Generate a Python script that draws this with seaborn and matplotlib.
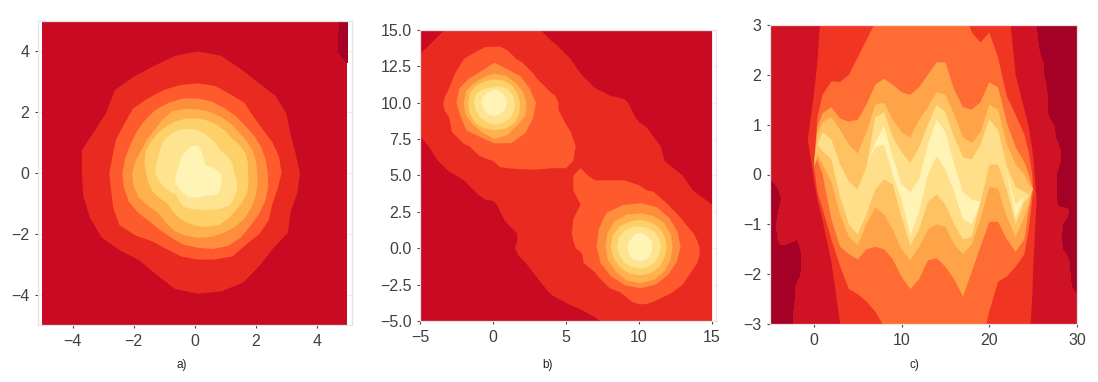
import numpy as np
import seaborn as sns
import matplotlib
matplotlib.use("Agg")
import matplotlib.pyplot as plt
from matplotlib.patches import Rectangle

W, H = 1098, 382

# band edges as radius from the blob centre, one value per ray
a_rays = [0, 11.25, 22.5, 33.75, 45, 56.25, 67.5, 78.75, 90, 101.25, 112.5, 123.75, 135, 146.25, 157.5, 168.75,
          180, 191.25, 202.5, 213.75, 225, 236.25, 247.5, 258.75, 270, 281.25, 292.5, 303.75, 315, 326.25, 337.5, 348.75]
b_rays = [0, 22.5, 45, 67.5, 90, 112.5, 135, 157.5, 180, 202.5, 225, 247.5, 270, 292.5, 315, 337.5]

# panel a
a_center = (0.1, 0.0)
a_r1 = [3.35, 3.27, 3.3, 3.5, 3.6, 3.57, 3.7, 3.93, 4, 3.92, 3.8, 3.8, 3.85, 3.6, 3.65, 3.87,
        3.8, 3.83, 3.83, 3.8, 3.6, 3.45, 3.6, 3.88, 3.97, 3.97, 3.9, 3.66, 3.5, 3.55, 3.3, 3.33]
a_r2 = [2.75, 2.72, 2.65, 2.57, 2.6, 2.77, 2.8, 2.92, 2.95, 2.95, 2.95, 2.95, 3, 2.9, 2.9, 2.85,
        2.9, 2.9, 3, 3.09, 2.9, 2.7, 2.7, 2.8, 2.85, 2.9, 2.97, 2.84, 2.85, 2.8, 2.65, 2.67]
a_r3 = [2.3, 2.27, 2.25, 2.22, 2.2, 2.25, 2.3, 2.4, 2.45, 2.5, 2.5, 2.5, 2.45, 2.42, 2.4, 2.43,
        2.47, 2.47, 2.45, 2.35, 2.25, 2.25, 2.3, 2.4, 2.46, 2.55, 2.6, 2.55, 2.45, 2.42, 2.4, 2.35]
a_r4 = [1.95, 1.95, 1.95, 1.92, 1.9, 1.95, 2, 2.05, 2.1, 2.15, 2.2, 2.1, 2, 2, 2, 2.08,
        2.15, 2.15, 2.1, 1.95, 1.85, 1.93, 2.05, 2.1, 2.13, 2.15, 2.15, 2.15, 2.15, 2.1, 2.05, 2]
a_r5 = [1.65, 1.68, 1.7, 1.65, 1.6, 1.65, 1.7, 1.75, 1.8, 1.83, 1.85, 1.85, 1.85, 1.85, 1.85, 1.78,
        1.7, 1.65, 1.6, 1.5, 1.41, 1.5, 1.6, 1.68, 1.75, 1.8, 1.85, 1.8, 1.75, 1.75, 1.75, 1.7]
a_r6 = [1.2, 1.18, 1.15, 1.1, 1.05, 1.12, 1.2, 1.3, 1.4, 1.48, 1.55, 1.55, 1.55, 1.47, 1.4, 1.4,
        1.4, 1.3, 1.2, 1.1, 1, 1.1, 1.2, 1.2, 1.2, 1.25, 1.3, 1.4, 1.5, 1.45, 1.4, 1.3]
a_r7 = [0.73, 0.6, 0.5, 0.4, 0.35, 0.42, 0.5, 0.7, 0.9, 0.9, 0.85, 0.8, 0.75, 0.7, 0.65, 0.68,
        0.7, 0.75, 0.8, 0.8, 0.8, 0.82, 0.85, 0.83, 0.8, 0.8, 0.8, 0.88, 0.95, 0.9, 0.85, 0.8]
# dark corner of panel a
a_dark_x = [4.5, 5]
a_dark_y = [3.5, 4, 5]
a_dark_z = [[1, 1], [2, -3], [3, -3]]

# panel b, outer two bands on a grid
b_x = [-5, -4, -3, -2, -1, -0.5, 0, 0.5, 1, 2, 3, 4, 5, 6, 7, 8, 9, 9.5, 10, 10.5, 11, 12, 13, 14, 15]
b_y = [15, 14, 13, 12, 11, 10.5, 10, 9.5, 9, 8, 7, 6, 5, 4, 3, 2, 1, 0.5, 0, -0.5, -1, -2, -3, -4, -5]
b_z = [
    [5, 8, 11, 13, 14, 15, 15, 15, 14, 13, 11, 7, 5, 4, 3, 3, 3, 3, 3, 3, 3, 3, 2, 2, 2],
    [8, 11, 13, 16, 18, 19, 19, 19, 18, 15, 13, 11, 8, 6, 5, 4, 4, 4, 4, 4, 4, 3, 3, 3, 2],
    [11, 13, 16, 20, 23, 25, 26, 26, 23, 18, 16, 14, 11, 8, 7, 6, 5, 5, 5, 5, 5, 4, 4, 3, 3],
    [13, 14, 18, 23, 31, 35, 40, 38, 34, 27, 18, 16, 13, 10, 8, 7, 6, 6, 6, 6, 6, 5, 5, 4, 3],
    [14, 16, 20, 33, 51, 55, 60, 57, 52, 32, 24, 18, 15, 13, 10, 8, 8, 7, 7, 7, 7, 6, 5, 4, 3],
    [15, 17, 21, 37, 62, 71, 75, 72, 65, 40, 27, 21, 17, 14, 12, 10, 9, 9, 8, 8, 7, 6, 5, 4, 3],
    [15, 17, 22, 40, 64, 73, 77, 74, 69, 46, 28, 22, 18, 15, 13, 12, 11, 9, 9, 8, 8, 7, 6, 5, 4],
    [14, 16, 22, 40, 63, 71, 75, 72, 67, 46, 30, 22, 18, 16, 14, 13, 11, 10, 9, 8, 8, 7, 6, 5, 4],
    [14, 16, 20, 37, 58, 65, 69, 66, 61, 41, 28, 23, 19, 17, 15, 14, 12, 11, 9, 8, 8, 7, 6, 5, 4],
    [11, 14, 18, 29, 38, 43, 50, 47, 43, 33, 27, 23, 21, 18, 16, 15, 14, 13, 12, 11, 9, 7, 6, 5, 4],
    [7, 12, 15, 18, 23, 25, 28, 28, 28, 28, 26, 24, 22, 19, 17, 16, 15, 14, 14, 13, 12, 8, 6, 5, 4],
    [5, 9, 13, 15, 18, 19, 20, 23, 24, 24, 23, 22, 21, 19, 18, 17, 16, 15, 15, 14, 13, 9, 7, 5, 4],
    [4, 6, 9, 11, 13, 14, 15, 16, 16, 17, 18, 18, 19, 21, 19, 19, 19, 19, 18, 18, 17, 14, 10, 7, 5],
    [3, 4, 6, 8, 11, 12, 13, 13, 14, 14, 15, 16, 18, 22, 22, 22, 22, 21, 21, 20, 19, 16, 12, 9, 7],
    [2, 3, 4, 6, 8, 9, 9, 11, 12, 13, 14, 15, 17, 20, 23, 25, 28, 29, 30, 29, 27, 20, 16, 13, 10],
    [1, 2, 3, 4, 5, 6, 7, 9, 11, 12, 13, 14, 17, 23, 26, 31, 44, 48, 50, 48, 45, 35, 19, 15, 12],
    [1, 1, 2, 3, 4, 5, 6, 7, 8, 11, 13, 15, 18, 23, 28, 42, 62, 67, 70, 67, 63, 47, 29, 17, 13],
    [1, 1, 2, 3, 3, 4, 5, 6, 8, 11, 13, 15, 18, 22, 27, 45, 65, 72, 75, 73, 69, 50, 28, 20, 15],
    [1, 1, 1, 2, 3, 3, 4, 5, 8, 12, 14, 16, 18, 21, 29, 47, 67, 73, 77, 74, 68, 47, 27, 21, 15],
    [1, 1, 1, 2, 2, 3, 3, 4, 7, 11, 14, 15, 17, 19, 26, 44, 63, 70, 73, 71, 66, 47, 28, 21, 14],
    [1, 1, 1, 1, 2, 2, 3, 3, 5, 9, 13, 15, 16, 19, 24, 39, 57, 64, 68, 65, 60, 43, 26, 20, 13],
    [1, 1, 1, 1, 1, 2, 2, 2, 3, 6, 10, 13, 15, 17, 18, 26, 42, 46, 48, 46, 43, 30, 22, 16, 11],
    [1, 1, 1, 1, 1, 1, 2, 2, 2, 3, 6, 11, 13, 15, 17, 18, 21, 24, 26, 25, 24, 21, 18, 14, 10],
    [1, 1, 1, 1, 1, 1, 1, 1, 1, 1, 3, 6, 9, 11, 13, 15, 17, 18, 19, 19, 18, 16, 15, 13, 11],
    [1, 1, 1, 1, 1, 1, 1, 1, 1, 1, 1, 2, 3, 6, 9, 12, 13, 14, 14, 14, 14, 13, 13, 12, 11],
]
# panel b, inner rings of the two blobs
b1_center = (0.1, 10.0)
b1_r3 = [2.85, 2.6, 2.55, 2.47, 2.75, 2.35, 2.4, 2.6, 2.6, 2.5, 2.7, 2.55, 2.8, 3, 2.97, 2.85]
b1_r4 = [2.2, 2.1, 2, 2, 2, 1.9, 1.95, 2.1, 2.1, 2.15, 2.1, 2.2, 2.5, 2.4, 2.2, 2.3]
b1_r5 = [1.75, 1.7, 1.7, 1.65, 1.6, 1.6, 1.7, 1.8, 1.8, 1.85, 1.9, 1.9, 1.9, 1.95, 1.95, 1.85]
b1_r6 = [1.4, 1.35, 1.3, 1.2, 1.1, 1.1, 1.25, 1.4, 1.4, 1.4, 1.4, 1.45, 1.5, 1.5, 1.5, 1.45]
b1_r7 = [0.85, 0.85, 0.85, 0.85, 0.9, 0.85, 0.85, 0.9, 0.9, 0.85, 0.85, 0.9, 0.9, 0.85, 0.85, 0.85]
b2_center = (10.1, 0.1)
b2_r3 = [2.75, 2.75, 2.8, 2.95, 3, 3.1, 3.3, 3.1, 3, 2.95, 2.85, 2.85, 2.85, 2.8, 2.7, 2.7]
b2_r4 = [2.2, 2.25, 2.3, 2.3, 2.3, 2.4, 2.5, 2.45, 2.4, 2.4, 2.4, 2.5, 2.5, 2.45, 2.35, 2.25]
b2_r5 = [1.8, 1.8, 1.85, 1.85, 1.85, 1.9, 2, 2.05, 2.05, 2, 2, 2, 1.95, 1.95, 1.9, 1.8]
b2_r6 = [1.4, 1.4, 1.4, 1.4, 1.4, 1.45, 1.55, 1.6, 1.6, 1.55, 1.55, 1.5, 1.5, 1.5, 1.45, 1.4]
b2_r7 = [0.8, 0.85, 0.85, 0.9, 0.95, 0.95, 0.85, 0.85, 0.9, 0.9, 0.95, 1, 1, 0.95, 0.9, 0.85]

# panel c, y of each band edge per x column, u = upper edge, l = lower edge
c_x = [-0.7, 0, 0.4, 1, 2, 3, 4, 5, 6, 7, 8, 9, 10, 11, 12, 13, 14, 15, 16, 17, 18, 19, 20, 21, 22, 23, 24,
       24.5, 24.9, 25, 25.4]
c_u1 = [0.7, 1.6, 2.25] + [3.8] * 22 + [2, 1.3, 0.95, 0.5, 0.37, -0.5]
c_u2 = [0.7, 0.17, 1.15, 1.6, 1.87, 1.86, 2, 2.35, 2.7, 3.05] + [3.4] * 10 + [2.85, 2.65, 2.85, 2.35, 1.57, 1.2, 0.8, 0.45, 0, -0.3, -0.5]
c_u3 = [0.7, 0.17, 0.95, 1.23, 1.35, 1.12, 1.06, 1.1, 1.4, 1.8, 1.92, 1.8, 1.65, 1.6, 1.75, 2, 2.25, 2.25, 1.7, 1.35, 1.3, 1.45, 1.85, 1.75, 1.04, 0.55, 0.25, 0, -0.25, -0.3, -0.5]
c_u4 = [0.7, 0.17, 0.8, 1.05, 1.15, 0.9, 0.6, 0.42, 0.85, 1.4, 1.44, 1.1, 0.85, 0.74, 1.1, 1.35, 1.65, 1.6, 1.2, 0.75, 0.63, 0.84, 1.4, 1.3, 0.6, 0.2, 0, -0.2, -0.26, -0.3, -0.5]
c_u5 = [0.7, 0.17, 0.6, 0.85, 0.7, 0.2, -0.15, -0.3, 0.15, 1.15, 1.25, 0.75, 0.45, 0.23, 0.55, 1, 1.4, 1.25, 0.75, 0.35, 0.3, 0.6, 1.1, 0.9, 0.17, -0.25, -0.35, -0.4, -0.27, -0.3, -0.5]
c_u6 = [0.7, 0.17, 0.6, 0.66, 0.5, -0.12, -0.57, -0.75, 0.15, 0.65, 0.97, 0.35, -0.2, -0.35, -0.1, 0.6, 1.1, 0.85, 0.2, -0.35, -0.5, -0.55, 0.6, 0.55, 0.03, -0.6, -0.45, -0.42, -0.275, -0.3, -0.5]
c_l6 = [0.7, 0.17, 0.6, 0.66, 0.5, -0.12, -0.57, -0.75, 0.15, 0.55, 0.6, 0, -0.5, -1.23, -0.75, 0, 0.37, 0.1, -0.35, -0.9, -1, -0.55, 0.6, 0.55, 0.03, -0.85, -0.45, -0.42, -0.275, -0.3, -0.5]
c_l5 = [0.7, 0.17, 0.6, 0.47, 0.3, -0.45, -1, -1.2, -0.8, -0.3, -0.1, -0.2, -0.85, -1.43, -1.1, -0.55, -0.4, -0.6, -1, -1.3, -1.25, -0.57, 0.2, 0.2, -0.3, -1, -0.55, -0.45, -0.28, -0.3, -0.5]
c_l4 = [0.7, 0.17, 0.4, 0.2, -0.15, -0.8, -1.25, -1.42, -1, -0.66, -0.8, -1.1, -1.5, -1.71, -1.45, -1.1, -1, -1.05, -1.4, -1.6, -1.4, -0.9, -0.25, -0.28, -0.85, -1.25, -0.85, -0.6, -0.3, -0.3, -0.5]
c_l3 = [0.7, 0.17, 0.3, 0, -0.9, -1.45, -1.6, -1.7, -1.5, -1.45, -1.5, -1.7, -2.05, -2.3, -2.1, -1.72, -1.68, -1.85, -2.1, -2.45, -1.95, -1.45, -0.95, -0.95, -1.3, -1.55, -1.3, -0.7, -0.32, -0.31, -0.5]
c_l2 = [0.7, 0.17, -0.35, -0.7, -1.3, -1.85, -2.3, -2.4, -2.55, -2.75, -3.05] + [-3.5] * 11 + [-2.75, -2.15, -2.05, -1.85, -1.6, -1.1, -0.5, -0.32, -0.5]
c_l1 = [0.7, -0.1, -0.5, -0.93, -1.75, -3] + [-3.8] * 21 + [-3.6, -2.45, -1.9, -0.5]

# dark patches of panel c, one list per x column
c_dark_y = [3, 2.75, 2.5, 2.25, 2, 1.75, 1.5, 1.25, 1, 0.75, 0.5, 0.25, 0,
            -0.25, -0.5, -0.75, -1, -1.25, -1.5, -1.75, -2, -2.25, -2.5, -2.75, -3]
c_left_x = [-5, -4, -3, -2, -1, 0]
c_left_z = [
    [6, 6, 6, 6, 6, 6, 6, 5, 5, 4, 4, 3, 2, -2, -4, -5, -5, -5, -6, -6, -6, -6, -6, -6, -6],
    [7, 7, 7, 7, 7, 7, 7, 7, 7, 6, 6, 6, 5, 1, -1, 1, 3, 2, -1, -3, -4, -4, -5, -5, -5],
    [8, 8, 8, 8, 8, 8, 8, 8, 8, 8, 8, 7, 7, 6, 5, 4, 4, 2, -1, -2, -3, -3, -3, -3, -3],
    [8, 8, 8, 8, 8, 8, 8, 8, 8, 8, 8, 8, 8, 7, 6, 5, 3, 1, -2, -3, -2, 1, 1, 2, 2],
    [8, 9, 9, 9, 9, 9, 9, 9, 9, 9, 9, 9, 9, 8, 8, 7, 6, 5, 3, 3, 3, 4, 4, 4, 5],
    [9, 9, 9, 9, 9, 9, 9, 9, 9, 9, 9, 9, 9, 9, 9, 9, 9, 9, 9, 9, 9, 9, 9, 9, 9],
]
c_right_x = [25, 26, 27, 28, 29, 30]
c_right_z = [
    [3, 3, 4, 4, 5, 5, 6, 6, 7, 8, 9, 9, 9, 9, 9, 9, 9, 9, 9, 9, 9, 9, 9, 9, 9],
    [-3, -2, -1, 1, 1, 2, 3, 3, 4, 4, 4, 4, 5, 5, 5, 5, 5, 5, 5, 5, 5, 5, 5, 5, 5],
    [-5, -5, -4, -3, -2, -1, -1, -1, 1, 2, 2, 2, 3, 3, 3, 3, 3, 3, 3, 3, 3, 3, 3, 3, 3],
    [-6, -6, -6, -5, -5, -4, -3, -2, -1, -1, 1, 1, -1, -1, -1, 1, 1, 1, 1, 2, 2, 2, 2, 2, 2],
    [-7, -7, -7, -7, -6, -6, -6, -5, -5, -5, -4, -4, -3, -3, -2, 1, -1, -2, -1, 1, 1, 1, 1, 1, 1],
    [-8, -8, -8, -8, -8, -7, -7, -7, -7, -6, -6, -6, -5, -5, -5, -4, -4, -3, -3, -3, -2, -1, 1, 1, 2],
]

dark = "#a50026"
colors_ab = ["#c80b23", "#e92a21", "#fe5a2d", "#fe8d3c", "#feb14c", "#fed06a", "#fee490", "#fff4b5"]
colors_c = ["#cf1224", "#f03523", "#ff6c33", "#ffa349", "#ffc263", "#ffdf89", "#fff4b6"]
# just under the edge values so each band ends on its edge row
edge_levels = [9.999, 19.999, 29.999, 39.999, 49.999, 59.999, 69.999]

sns.set_theme(style="whitegrid")
plt.rcParams["font.family"] = ["Liberation Sans", "DejaVu Sans"]


def make_axes(box, xlim, ylim, xticks, yticks):
    left, right, top, bottom = box
    ax = fig.add_axes([left / W, 1 - bottom / H, (right - left) / W, (bottom - top) / H])
    ax.set_xlim(*xlim)
    ax.set_ylim(*ylim)
    ax.set_xticks(xticks)
    ax.set_yticks(yticks)
    ax.tick_params(axis="both", length=2.2, width=0.8, color="#444444", labelcolor="#404040",
                   labelsize=11.5, pad=4, bottom=True, left=True)
    ax.grid(color="#eeeeee", linewidth=0.8)
    for s in ax.spines.values():
        s.set_color("#e4e4e4")
        s.set_linewidth(0.9)
    return ax


def stacked_bands(ax, xs, ys, zs, levels, colors, clip=None):
    # each band painted over the one below it, so no seams show between them
    for level, color in zip(levels, sns.color_palette(colors)):
        cs = ax.contourf(xs, ys, zs, levels=[level, 1000], colors=[color], antialiased=True)
        if clip is not None:
            cs.set_clip_path(Rectangle(clip[0], clip[1], clip[2], transform=ax.transData))


def draw_rings(ax, rays, center, radii, values, levels, colors, clip=None):
    theta = np.radians(rays + [360])
    r = np.array([list(row) + [row[0]] for row in radii])
    xs = center[0] + r * np.cos(theta)
    ys = center[1] + r * np.sin(theta)
    zs = np.array([[v] * len(theta) for v in values])
    stacked_bands(ax, xs, ys, zs, levels, colors, clip)


fig = plt.figure(figsize=(W / 100, H / 100), dpi=100)

# a)
ax = make_axes((38, 352, 21, 325), (-5.14, 5.16), (-5, 5), [-4, -2, 0, 2, 4], [-4, -2, 0, 2, 4])
draw_rings(ax, a_rays, a_center,
           [[9.5] * 32, a_r1, a_r2, a_r3, a_r4, a_r5, a_r6, a_r7, [0] * 32],
           [5, 10, 20, 30, 40, 50, 60, 70, 75],
           [-1] + edge_levels, colors_ab, clip=((-5, -5), 10, 10))
ax.contourf(a_dark_x, a_dark_y, a_dark_z, levels=[-100, 0], colors=[dark])

# b)
ax = make_axes((420, 715.6, 30, 321), (-5, 15.25), (-5, 15), [-5, 0, 5, 10, 15],
               [-5, -2.5, 0, 2.5, 5, 7.5, 10, 12.5, 15])
stacked_bands(ax, b_x, b_y, np.array(b_z), [-100, 10, 20], colors_ab[:3])
for center, rings in [(b1_center, [b1_r3, b1_r4, b1_r5, b1_r6, b1_r7]),
                      (b2_center, [b2_r3, b2_r4, b2_r5, b2_r6, b2_r7])]:
    draw_rings(ax, b_rays, center, rings + [[0] * 16], [30, 40, 50, 60, 70, 75],
               edge_levels[2:], colors_ab[3:])

# c)
ax = make_axes((770, 1077, 25, 324), (-5, 30), (-3, 3), [0, 10, 20, 30], [-3, -2, -1, 0, 1, 2, 3])
ax.grid(False)
ax.set_facecolor(colors_c[0])
ax.contourf(c_left_x, c_dark_y, np.array(c_left_z).T, levels=[-100, 0], colors=[dark])
ax.contourf(c_right_x, c_dark_y, np.array(c_right_z).T, levels=[-100, 0], colors=[dark])
rows = [[4] * len(c_x), c_u1, c_u2, c_u3, c_u4, c_u5, c_u6, c_l6, c_l5, c_l4, c_l3, c_l2, c_l1, [-4] * len(c_x)]
row_values = [5, 10, 20, 30, 40, 50, 60, 60, 50, 40, 30, 20, 10, 5]
xs = np.tile(c_x, (len(rows), 1))
zs = np.array([[v] * len(c_x) for v in row_values])
stacked_bands(ax, xs, np.array(rows), zs, edge_levels[:6], colors_c[1:])

for label, px in zip(["a)", "b)", "c)"], [182, 548, 914]):
    fig.text(px / W, 1 - 365 / H, label, ha="center", va="center", fontsize=8.5, color="#222222")

fig.savefig("out.png", dpi=100)
